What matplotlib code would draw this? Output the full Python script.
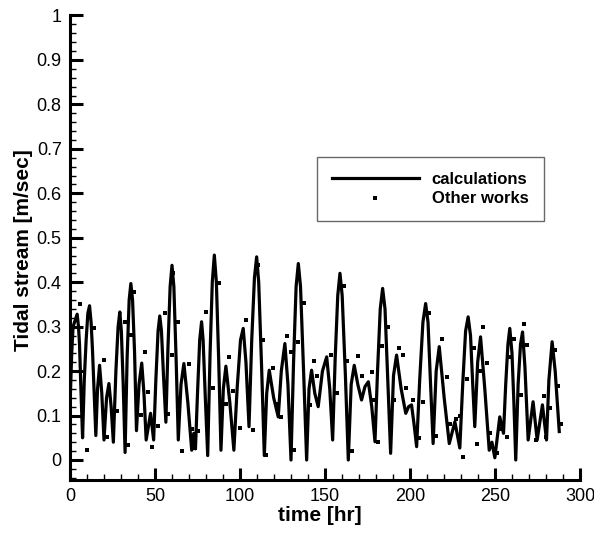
"""
Tidal stream time series: model calculations vs other works.
"""

import matplotlib
matplotlib.use("Agg")
import matplotlib.pyplot as plt
from matplotlib.ticker import MultipleLocator, FuncFormatter

plt.rcParams['font.family'] = ['Liberation Sans', 'DejaVu Sans']

# calculations: points (time [hr], speed [m/sec])
calc_time = [0.0, 1.0, 1.8, 4.2, 5.0, 5.6, 6.5, 7.4, 8.4, 9.5, 10.5, 11.5,
             12.4, 13.2, 14.2, 15.2, 16.2, 17.4, 18.7, 20.0, 21.5, 22.9, 24.2,
             25.5, 27.0, 28.3, 29.3, 30.2, 31.3, 32.4, 33.6, 34.8, 35.8, 36.8,
             38.0, 39.1, 40.6, 42.2, 43.5, 44.8, 47.4, 49.2, 50.5, 51.8, 52.8,
             53.8, 55.0, 56.4, 57.6, 58.9, 60.0, 61.1, 62.4, 63.7, 65.3, 67.0,
             69.3, 71.6, 72.8, 73.8, 75.0, 76.3, 77.4, 78.3, 79.6, 81.0, 82.4,
             83.7, 84.9, 86.1, 87.5, 88.8, 90.2, 91.7, 94.0, 96.4, 98.3, 100.3,
             101.9, 103.5, 105.3, 106.9, 108.5, 109.8, 111.0, 112.7, 114.3,
             115.7, 117.2, 119.8, 122.5, 124.3, 126.4, 128.2, 130.0, 131.5,
             133.0, 134.3, 135.6, 137.4, 139.2, 140.6, 142.1, 144.0, 146.0,
             148.5, 151.0, 152.8, 154.5, 156.0, 157.5, 158.8, 160.1, 162.0,
             163.7, 165.4, 167.2, 169.3, 171.5, 173.5, 175.5, 177.5, 179.4,
             180.9, 182.5, 183.9, 185.3, 187.0, 188.6, 190.3, 192.1, 194.8,
             197.5, 199.2, 200.9, 202.4, 203.9, 205.7, 207.6, 209.2, 210.6,
             212.1, 213.6, 215.4, 217.2, 220.1, 223.1, 226.4, 229.3, 231.0,
             232.7, 234.2, 235.6, 236.9, 238.1, 239.8, 241.5, 244.0, 246.6,
             248.2, 249.9, 252.8, 255.0, 256.3, 257.6, 258.7, 260.0, 261.1,
             262.2, 263.6, 265.0, 266.2, 267.6, 269.5, 272.4, 274.8, 277.9,
             280.3, 281.7, 283.6, 285.4, 287.8]
calc_speed = [0.12, 0.24, 0.30, 0.328, 0.30, 0.26, 0.15, 0.05, 0.18, 0.27,
              0.33, 0.347, 0.31, 0.25, 0.15, 0.055, 0.16, 0.213, 0.15, 0.045,
              0.14, 0.172, 0.12, 0.04, 0.20, 0.30, 0.333, 0.29, 0.17, 0.017,
              0.23, 0.36, 0.397, 0.36, 0.24, 0.066, 0.17, 0.218, 0.15, 0.045,
              0.105, 0.045, 0.18, 0.29, 0.324, 0.29, 0.19, 0.085, 0.25, 0.39,
              0.438, 0.39, 0.23, 0.045, 0.17, 0.217, 0.13, 0.022, 0.06, 0.025,
              0.15, 0.27, 0.311, 0.27, 0.14, 0.01, 0.24, 0.40, 0.461, 0.40,
              0.22, 0.022, 0.16, 0.211, 0.13, 0.022, 0.16, 0.27, 0.296, 0.22,
              0.075, 0.27, 0.41, 0.457, 0.40, 0.21, 0.01, 0.15, 0.202, 0.14,
              0.097, 0.20, 0.262, 0.17, 0.0, 0.22, 0.39, 0.442, 0.39, 0.20,
              0.0, 0.16, 0.202, 0.15, 0.12, 0.20, 0.232, 0.16, 0.045, 0.23,
              0.37, 0.42, 0.37, 0.19, 0.0, 0.17, 0.213, 0.17, 0.135, 0.165,
              0.176, 0.12, 0.041, 0.20, 0.34, 0.386, 0.34, 0.17, 0.015, 0.19,
              0.236, 0.16, 0.105, 0.12, 0.124, 0.08, 0.03, 0.18, 0.31, 0.352,
              0.31, 0.17, 0.037, 0.20, 0.255, 0.14, 0.037, 0.086, 0.027, 0.17,
              0.29, 0.322, 0.28, 0.17, 0.075, 0.22, 0.277, 0.16, 0.022, 0.04,
              0.005, 0.097, 0.06, 0.17, 0.26, 0.296, 0.24, 0.13, 0.0, 0.17,
              0.26, 0.288, 0.21, 0.045, 0.131, 0.045, 0.124, 0.045, 0.18,
              0.266, 0.20, 0.064]

# other works: scattered points
other_time = [2.0, 5.9, 9.8, 14.3, 20.0, 21.9, 27.8, 32.3, 34.3, 35.7, 37.6,
              41.7, 44.1, 46.0, 48.0, 51.9, 56.1, 57.8, 59.8, 60.8, 63.7, 66.0,
              70.2, 71.5, 73.5, 75.5, 79.8, 83.9, 87.6, 91.5, 93.7, 95.7,
              100.0, 103.5, 107.4, 110.7, 113.7, 115.2, 119.6, 122.5, 124.0,
              127.8, 130.0, 131.7, 134.2, 137.6, 141.1, 143.5, 145.4, 153.3,
              157.2, 161.1, 163.1, 165.6, 169.5, 171.5, 177.4, 179.1, 181.3,
              183.3, 187.2, 190.5, 193.6, 195.6, 197.6, 201.9, 205.4, 207.4,
              211.3, 215.2, 219.1, 221.5, 223.4, 227.0, 229.3, 231.3, 233.3,
              237.6, 239.5, 241.1, 243.0, 245.4, 247.1, 250.9, 252.8, 257.1,
              258.7, 261.1, 265.0, 266.9, 268.9, 274.4, 278.7, 280.1, 282.6,
              285.2, 287.1, 289.1]
other_speed = [0.30, 0.351, 0.022, 0.298, 0.225, 0.052, 0.111, 0.311, 0.033,
               0.281, 0.378, 0.101, 0.243, 0.154, 0.03, 0.076, 0.331, 0.103,
               0.236, 0.42, 0.311, 0.02, 0.216, 0.069, 0.026, 0.066, 0.333,
               0.161, 0.398, 0.126, 0.231, 0.156, 0.071, 0.316, 0.067, 0.438,
               0.27, 0.011, 0.208, 0.126, 0.097, 0.279, 0.243, 0.022, 0.266,
               0.354, 0.124, 0.222, 0.189, 0.236, 0.151, 0.391, 0.222, 0.02,
               0.234, 0.189, 0.198, 0.135, 0.041, 0.256, 0.30, 0.136, 0.251,
               0.236, 0.163, 0.135, 0.049, 0.131, 0.331, 0.054, 0.273, 0.186,
               0.08, 0.093, 0.099, 0.006, 0.183, 0.251, 0.035, 0.20, 0.30,
               0.219, 0.061, 0.016, 0.069, 0.052, 0.231, 0.273, 0.146, 0.307,
               0.258, 0.046, 0.144, 0.052, 0.118, 0.247, 0.166, 0.08]

fig = plt.figure(figsize=(5.94, 5.33), dpi=100)
ax = fig.add_axes([70 / 594, 53 / 533, 510 / 594, 464.5 / 533])

ax.plot(calc_time, calc_speed, color='black', linewidth=2.3,
        solid_joinstyle='round', label='calculations')
ax.plot(other_time, other_speed, linestyle='none', marker='s', markersize=2.4,
        markeredgewidth=0, color='black', label='Other works')

ax.set_xlim(0, 300)
ax.set_ylim(-0.045, 1)

# Tecplot-like axes: only left and bottom, ticks pointing inward
for side in ['top', 'right']:
    ax.spines[side].set_visible(False)
for side in ['left', 'bottom']:
    ax.spines[side].set_linewidth(2.2)

ax.xaxis.set_major_locator(MultipleLocator(50))
ax.xaxis.set_minor_locator(MultipleLocator(10))
ax.yaxis.set_major_locator(MultipleLocator(0.1))
ax.yaxis.set_minor_locator(MultipleLocator(0.02))
ax.yaxis.set_major_formatter(FuncFormatter(lambda v, p: f"{v:g}" if abs(v) > 1e-9 else "0"))

ax.tick_params(which='major', direction='in', length=9, width=2.2,
               labelsize=13, pad=6)
ax.tick_params(which='minor', direction='in', length=4.5, width=1)
ax.tick_params(top=False, right=False, which='both')

ax.set_xlabel('time [hr]', fontsize=15, fontweight='bold')
ax.set_ylabel('Tidal stream [m/sec]', fontsize=15, fontweight='bold')
ax.xaxis.set_label_coords(0.49, -0.055)
ax.yaxis.set_label_coords(-0.072, 0.495)

leg = ax.legend(loc='upper left', bbox_to_anchor=(0.484, 0.695),
                frameon=True, fancybox=False, shadow=False,
                prop={'weight': 'bold', 'size': 12},
                handlelength=5.2, handletextpad=0.8, borderpad=0.9,
                labelspacing=0.25, borderaxespad=0)
leg.get_frame().set_edgecolor('#444444')
leg.get_frame().set_linewidth(1.0)

plt.savefig('out.png', dpi=100)
